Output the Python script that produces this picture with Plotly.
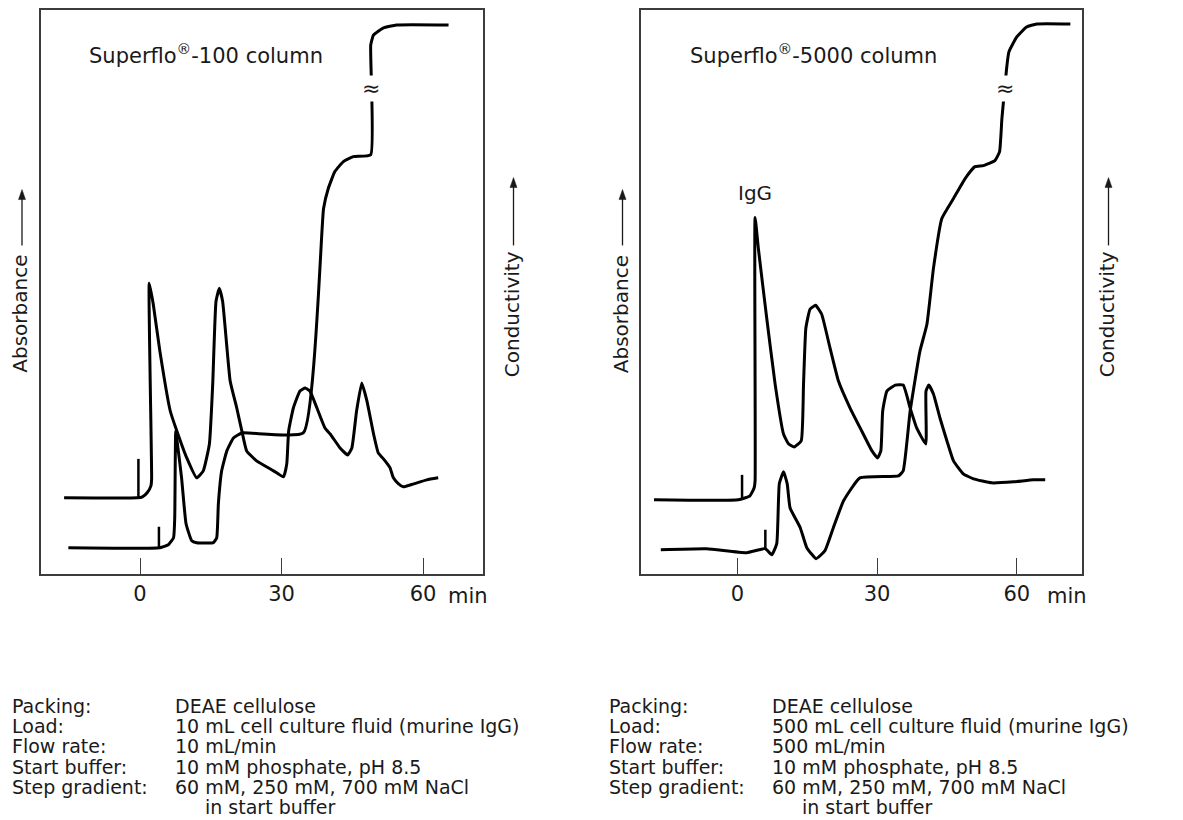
import plotly.graph_objects as go

# ---------------- data (time in min, signal in arbitrary units) ----------------
# Left panel: Superflo-100 column
l_abs_t = [-16.1, -0.6, 0.5, 1.5, 2.3, 2.45, 1.95, 2.8, 4.2, 6.4, 7.8, 9.9, 12.0, 13.4, 14.7, 15.4,
           16.1, 16.8, 17.5, 19.1, 20.5, 21.9, 22.6, 24.7, 28.3, 30.4, 31.1, 31.5, 32.5, 33.9, 35.0,
           36.0, 37.5, 39.2, 40.3, 42.4, 44.0, 44.9, 45.9, 47.0, 48.1, 49.5, 50.5, 51.6, 53.0, 53.7,
           54.8, 55.8, 58.0, 60.8, 63.2]
l_abs_v = [76, 76, 77, 81, 88, 95, 291, 270, 223, 163, 143, 116, 96, 103, 130, 190,
           273, 286, 273, 193, 166, 136, 123, 113, 103, 97, 110, 143, 166, 183, 186,
           183, 166, 146, 140, 126, 119, 126, 163, 191, 173, 140, 121, 115, 106, 96,
           90, 87, 90, 94, 96]
l_cond_t = [-15.2, 4.2, 6.0, 7.1, 7.35, 7.56, 7.77, 8.8, 9.75, 10.95, 12.0, 15.55, 16.25, 16.6,
            17.3, 18.4, 19.8, 21.6, 34.6, 38.9, 39.9, 41.3, 43.1, 45.2, 48.9, 48.9, 49.5, 51.6,
            54.4, 65.4]
l_cond_v = [26, 26, 29, 36, 56, 143, 136, 96, 50, 33, 31, 31, 36, 70,
            103, 123, 136, 141, 141, 366, 386, 403, 413, 418, 420, 530, 540, 547,
            550, 550]
l_inj_abs_t, l_inj_abs_v = [-0.35, -0.35], [76, 115]
l_inj_cond_t, l_inj_cond_v = [4.0, 4.0], [26, 47]
l_break_t, l_break_v = 48.9, 486

# Right panel: Superflo-5000 column
r_abs_t = [-17.9, 0.2, 2.7, 3.6, 3.8, 3.8, 4.5, 6.3, 8.1, 9.9, 11.0, 12.2, 13.7, 14.2, 14.7, 15.6,
           16.8, 18.1, 19.9, 21.7, 24.2, 26.7, 28.9, 30.1, 30.8, 31.2, 32.1, 33.9, 35.6, 37.1,
           38.5, 40.45, 40.5, 41.1, 42.1, 43.5, 45.0, 46.4, 48.5, 50.7, 54.6, 59.3, 63.6, 66.1]
r_abs_v = [74, 74, 78, 86, 93, 357, 326, 256, 190, 140, 130, 127, 133, 190, 246, 265,
           269, 260, 226, 193, 166, 143, 123, 116, 123, 163, 183, 189, 189, 166,
           146, 130, 183, 189, 180, 156, 133, 113, 100, 95, 91, 92, 94, 94]
r_cond_t = [-16.45, -6.6, 2.0, 5.95, 7.4, 8.45, 9.0, 9.9, 10.7, 11.3, 13.5, 14.9, 16.9, 18.8,
            20.6, 22.8, 26.3, 34.6, 35.6, 37.1, 39.2, 40.7, 42.1, 43.9, 46.4, 48.9, 51.0, 52.8,
            55.3, 56.3, 56.8, 57.8, 58.3, 60.0, 62.1, 64.3, 71.5]
r_cond_v = [24, 25, 21, 25, 19, 30, 90, 102, 90, 66, 46, 26, 15, 23,
            46, 73, 96, 98, 103, 163, 223, 250, 306, 356, 376, 396, 408, 409,
            414, 423, 456, 506, 523, 538, 548, 551, 551]
r_inj_abs_t, r_inj_abs_v = [1.0, 1.0], [74, 99]
r_inj_cond_t, r_inj_cond_v = [6.0, 6.0], [25, 44]
r_break_t, r_break_v = 57.4, 486

tick_vals = [0, 30, 60]
tick_text = ["0", "30", "60"]

titles = ["Superflo<sup>®</sup>-100 column", "Superflo<sup>®</sup>-5000 column"]
side_labels = ["Absorbance", "Conductivity", "Absorbance", "Conductivity"]
info_labels = ["Packing:", "Load:", "Flow rate:", "Start buffer:", "Step gradient:"]
left_info = ["DEAE cellulose", "10 mL cell culture fluid (murine IgG)", "10 mL/min",
             "10 mM phosphate, pH 8.5", "60 mM, 250 mM, 700 mM NaCl"]
right_info = ["DEAE cellulose", "500 mL cell culture fluid (murine IgG)", "500 mL/min",
              "10 mM phosphate, pH 8.5", "60 mM, 250 mM, 700 mM NaCl"]
info_last = "in start buffer"

# ---------------- figure ----------------
OFF = 8                     # page body margin
W, H = 1183 - OFF, 820 - OFF
FONT = "DejaVu Sans"
TXT = "#1a1a1a"

def px(x):
    return (x - OFF) / W

def py(y):
    return 1 - (y - OFF) / H

fig = go.Figure()
line_main = dict(color="black", width=3, shape="spline", smoothing=0.4)
line_inj = dict(color="black", width=2.5)

for t, v, xa, ya, ln in [
    (l_abs_t, l_abs_v, "x", "y", line_main),
    (l_cond_t, l_cond_v, "x", "y", line_main),
    (l_inj_abs_t, l_inj_abs_v, "x", "y", line_inj),
    (l_inj_cond_t, l_inj_cond_v, "x", "y", line_inj),
    (r_abs_t, r_abs_v, "x2", "y2", line_main),
    (r_cond_t, r_cond_v, "x2", "y2", line_main),
    (r_inj_abs_t, r_inj_abs_v, "x2", "y2", line_inj),
    (r_inj_cond_t, r_inj_cond_v, "x2", "y2", line_inj),
]:
    fig.add_trace(go.Scatter(x=t, y=v, mode="lines", line=ln, xaxis=xa, yaxis=ya,
                             showlegend=False, hoverinfo="skip"))

ydom = [py(573), py(8)]
xcommon = dict(showline=True, mirror=True, linecolor="#3c3c3c", linewidth=1.5,
               showgrid=False, zeroline=False, ticks="inside", ticklen=16, tickwidth=1,
               tickcolor="#3c3c3c", tickvals=tick_vals, ticktext=tick_text,
               tickfont=dict(family=FONT, size=21, color=TXT))
ycommon = dict(showline=True, mirror=True, linecolor="#3c3c3c", linewidth=1.5,
               showgrid=False, zeroline=False, showticklabels=False, ticks="",
               range=[0, 565], domain=ydom)

fig.update_layout(
    width=W, height=H, autosize=False,
    margin=dict(l=0, r=0, t=0, b=0),
    paper_bgcolor="white", plot_bgcolor="white",
    font=dict(family=FONT, color=TXT),
    xaxis=dict(xcommon, domain=[px(41), px(483)], range=[-21.0, 72.7], anchor="y"),
    yaxis=dict(ycommon, anchor="x"),
    xaxis2=dict(xcommon, domain=[px(641), px(1082)], range=[-20.7, 74.0], anchor="y2"),
    yaxis2=dict(ycommon, anchor="x2"),
)

ann = []
# panel titles
ann.append(dict(text=titles[0], x=px(87), y=py(52), xref="paper", yref="paper",
                xanchor="left", yanchor="middle", showarrow=False, font=dict(size=21)))
ann.append(dict(text=titles[1], x=px(688), y=py(52), xref="paper", yref="paper",
                xanchor="left", yanchor="middle", showarrow=False, font=dict(size=21)))
# IgG label
ann.append(dict(text="IgG", x=3.8, y=357, xref="x2", yref="y2", yshift=24,
                yanchor="middle", showarrow=False, font=dict(size=20)))
# "min" after tick label 60
ann.append(dict(text="min", x=60, y=py(595), xref="x", yref="paper", xshift=23,
                xanchor="left", yanchor="middle", showarrow=False, font=dict(size=21)))
ann.append(dict(text="min", x=60, y=py(595), xref="x2", yref="paper", xshift=28,
                xanchor="left", yanchor="middle", showarrow=False, font=dict(size=21)))
# break marks
ann.append(dict(text="≈", x=l_break_t, y=l_break_v, xref="x", yref="y", showarrow=False,
                font=dict(size=22), bgcolor="white", borderpad=0))
ann.append(dict(text="≈", x=r_break_t, y=r_break_v, xref="x2", yref="y2", showarrow=False,
                font=dict(size=22), bgcolor="white", borderpad=0))

# side axis labels (rotated) with upward arrows drawn as shapes
shapes = []
side_pos = [(20.5, 313, 244, 188), (512, 313, 244, 176), (621, 313, 244, 188), (1107, 313, 244, 176)]
for txt, (xc, yc, tail, head) in zip(side_labels, side_pos):
    ann.append(dict(text=txt, x=px(xc), y=py(yc), xref="paper", yref="paper",
                    textangle=-90, showarrow=False, xanchor="center", yanchor="middle",
                    font=dict(size=20)))
    xs = xc + 1.5
    shapes.append(dict(type="line", xref="paper", yref="paper",
                       x0=px(xs), x1=px(xs), y0=py(tail), y1=py(head + 6),
                       line=dict(color=TXT, width=1.3)))
    shapes.append(dict(type="path", xref="paper", yref="paper",
                       path=(f"M {px(xs)} {py(head)} L {px(xs - 3.5)} {py(head + 10)} "
                             f"L {px(xs + 3.5)} {py(head + 10)} Z"),
                       fillcolor=TXT, line=dict(color=TXT, width=0.5)))

# bottom info blocks
line_y = [705.5, 725.8, 746.1, 766.4, 786.7]
FS = 19
for x0, x1, vals in [(10, 173, left_info), (607, 770, right_info)]:
    for lab, val, yy in zip(info_labels, vals, line_y):
        ann.append(dict(text=lab, x=px(x0), y=py(yy), xref="paper", yref="paper",
                        xanchor="left", yanchor="middle", showarrow=False, font=dict(size=FS)))
        ann.append(dict(text=val, x=px(x1), y=py(yy), xref="paper", yref="paper",
                        xanchor="left", yanchor="middle", showarrow=False, font=dict(size=FS)))
    ann.append(dict(text=info_last, x=px(x1 + 30), y=py(807), xref="paper", yref="paper",
                    xanchor="left", yanchor="middle", showarrow=False, font=dict(size=FS)))

fig.update_layout(annotations=ann, shapes=shapes)
fig.write_html("out.html")
